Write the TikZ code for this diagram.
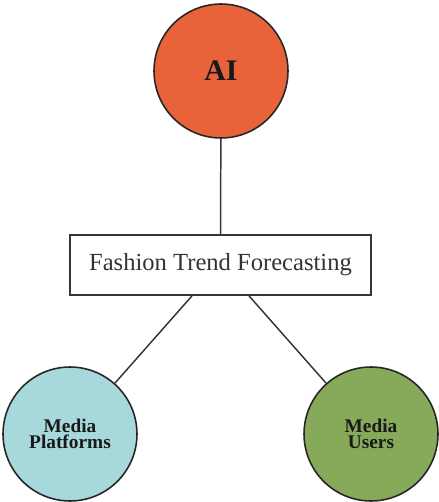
\documentclass[tikz,border=0pt]{standalone}
\usepackage{fontspec}
\setmainfont{Liberation Serif}
\usetikzlibrary{arrows}

\definecolor{aiorange}{RGB}{232,99,58}
\definecolor{platteal}{RGB}{166,216,220}
\definecolor{usergreen}{RGB}{134,170,90}
\definecolor{edgegray}{RGB}{55,55,55}

\tikzset{
	bubble/.style={circle,draw=black!85,line width=0.9pt,minimum size=2.68cm,inner sep=0pt,align=center,text=black!90,font=\bfseries\fontsize{11}{9.5}\selectfont},
	topic/.style={rectangle,draw=edgegray,line width=1pt,minimum width=6.02cm,minimum height=1.2cm,text=black!80,font=\fontsize{14}{16}\selectfont},
	link/.style={draw=edgegray,line width=0.85pt}
}

\begin{document}
\begin{tikzpicture}[x=0.02cm,y=-0.02cm]
	\useasboundingbox (0,0) rectangle (438,502);
\node[bubble,fill=aiorange,font=\bfseries\fontsize{17}{19}\selectfont] (ai) at (221,71) {AI};
\node[topic] (trend) at (220.5,265) {Fashion Trend Forecasting};
\node[bubble,fill=platteal] (platforms) at (70,434) {Media\\Platforms};
\node[bubble,fill=usergreen] (users) at (371,434) {Media\\Users};
\draw [link](ai)--(trend);
\draw [link]([xshift=-0.57cm]trend.south)--(platforms);
\draw [link]([xshift=0.57cm]trend.south)--(users);
	\end{tikzpicture}
\end{document}
